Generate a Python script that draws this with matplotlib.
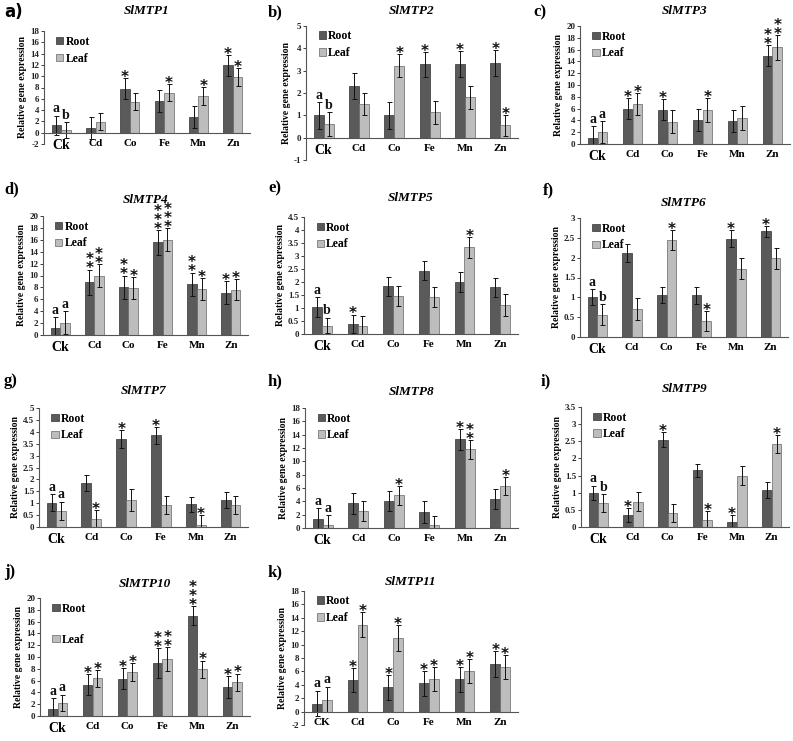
import matplotlib
matplotlib.use("Agg")
import matplotlib.pyplot as plt
import matplotlib.ticker as mtick
from matplotlib.patches import Patch
import numpy as np

W, H = 793, 741
ROOT_C = "#5a5a5a"
LEAF_C = "#bdbdbd"
SERIF = "Liberation Serif"

METALS = ["Ck", "Cd", "Co", "Fe", "Mn", "Zn"]
METALS_K = ["CK", "Cd", "Co", "Fe", "Mn", "Zn"]

# values: mean, error, significance mark
MTP1_ROOT = [1.3, 0.8, 7.8, 5.6, 2.8, 11.9]
MTP1_ROOT_SD = [1.7, 1.9, 1.9, 1.9, 1.9, 1.9]
MTP1_LEAF = [0.5, 1.9, 5.5, 7.1, 6.5, 9.8]
MTP1_LEAF_SD = [1.4, 1.5, 1.5, 1.5, 1.6, 1.6]
MTP1_ROOT_SIG = ["a", "", "*", "", "", "*"]
MTP1_LEAF_SIG = ["b", "", "", "*", "*", "*"]

MTP2_ROOT = [1.0, 2.3, 1.0, 3.28, 3.3, 3.33]
MTP2_ROOT_SD = [0.6, 0.58, 0.6, 0.57, 0.57, 0.59]
MTP2_LEAF = [0.62, 1.5, 3.23, 1.13, 1.8, 0.55]
MTP2_LEAF_SD = [0.53, 0.5, 0.5, 0.52, 0.5, 0.48]
MTP2_ROOT_SIG = ["a", "", "", "*", "*", "*"]
MTP2_LEAF_SIG = ["b", "", "*", "", "", "*"]

MTP3_ROOT = [1.1, 6.0, 5.8, 4.1, 3.9, 15.0]
MTP3_ROOT_SD = [1.9, 1.8, 1.8, 1.9, 1.8, 1.8]
MTP3_LEAF = [2.0, 6.8, 3.8, 5.8, 4.4, 16.4]
MTP3_LEAF_SD = [1.9, 1.9, 2.0, 2.0, 2.0, 2.1]
MTP3_ROOT_SIG = ["a", "*", "*", "", "", "**"]
MTP3_LEAF_SIG = ["a", "*", "", "*", "", "**"]

MTP4_ROOT = [1.1, 8.9, 8.0, 15.6, 8.5, 7.1]
MTP4_ROOT_SD = [1.9, 2.1, 2.0, 2.1, 2.0, 1.9]
MTP4_LEAF = [2.1, 10.0, 7.9, 16.0, 7.7, 7.6]
MTP4_LEAF_SD = [1.9, 1.9, 1.8, 1.9, 1.8, 1.8]
MTP4_ROOT_SIG = ["a", "**", "**", "***", "**", "*"]
MTP4_LEAF_SIG = ["a", "**", "*", "***", "*", "*"]

MTP5_ROOT = [1.04, 0.4, 1.84, 2.44, 2.0, 1.79]
MTP5_ROOT_SD = [0.38, 0.35, 0.37, 0.36, 0.38, 0.36]
MTP5_LEAF = [0.32, 0.32, 1.46, 1.42, 3.33, 1.12]
MTP5_LEAF_SD = [0.3, 0.38, 0.4, 0.4, 0.4, 0.41]
MTP5_ROOT_SIG = ["a", "*", "", "", "", ""]
MTP5_LEAF_SIG = ["b", "", "", "", "*", ""]

MTP6_ROOT = [1.0, 2.12, 1.05, 1.05, 2.48, 2.66]
MTP6_ROOT_SD = [0.2, 0.22, 0.2, 0.22, 0.22, 0.14]
MTP6_LEAF = [0.56, 0.71, 2.45, 0.4, 1.72, 1.98]
MTP6_LEAF_SD = [0.27, 0.27, 0.25, 0.26, 0.27, 0.26]
MTP6_ROOT_SIG = ["a", "", "", "", "*", "*"]
MTP6_LEAF_SIG = ["b", "", "*", "*", "", ""]

MTP7_ROOT = [1.02, 1.84, 3.71, 3.85, 0.95, 1.12]
MTP7_ROOT_SD = [0.36, 0.34, 0.37, 0.35, 0.33, 0.34]
MTP7_LEAF = [0.67, 0.34, 1.15, 0.93, 0.1, 0.93]
MTP7_LEAF_SD = [0.39, 0.38, 0.46, 0.38, 0.4, 0.38]
MTP7_ROOT_SIG = ["a", "", "*", "*", "", ""]
MTP7_LEAF_SIG = ["a", "*", "", "", "*", ""]

MTP8_ROOT = [1.3, 3.7, 4.1, 2.4, 13.3, 4.3]
MTP8_ROOT_SD = [1.7, 1.6, 1.5, 1.6, 1.6, 1.5]
MTP8_LEAF = [0.4, 2.6, 4.9, 0.4, 11.8, 6.3]
MTP8_LEAF_SD = [1.5, 1.5, 1.4, 1.4, 1.4, 1.4]
MTP8_ROOT_SIG = ["a", "", "", "", "*", ""]
MTP8_LEAF_SIG = ["a", "", "*", "", "**", "*"]

MTP9_ROOT = [1.0, 0.36, 2.55, 1.66, 0.16, 1.08]
MTP9_ROOT_SD = [0.2, 0.2, 0.22, 0.19, 0.2, 0.23]
MTP9_LEAF = [0.7, 0.74, 0.42, 0.2, 1.5, 2.42]
MTP9_LEAF_SD = [0.26, 0.27, 0.26, 0.26, 0.27, 0.26]
MTP9_ROOT_SIG = ["a", "*", "*", "", "*", ""]
MTP9_LEAF_SIG = ["b", "", "", "*", "", "*"]

MTP10_ROOT = [1.2, 5.3, 6.3, 9.0, 17.0, 4.9]
MTP10_ROOT_SD = [1.8, 1.8, 1.8, 2.5, 1.6, 1.9]
MTP10_LEAF = [2.2, 6.4, 7.4, 9.7, 7.9, 5.7]
MTP10_LEAF_SD = [1.4, 1.4, 1.5, 2.0, 1.5, 1.5]
MTP10_ROOT_SIG = ["a", "*", "*", "**", "***", "*"]
MTP10_LEAF_SIG = ["a", "*", "*", "**", "*", "*"]

MTP11_ROOT = [1.2, 4.7, 3.6, 4.2, 4.8, 7.1]
MTP11_ROOT_SD = [1.9, 1.8, 1.9, 1.9, 1.8, 1.9]
MTP11_LEAF = [1.8, 13.0, 11.0, 4.9, 6.1, 6.7]
MTP11_LEAF_SD = [1.9, 1.9, 1.9, 1.8, 1.8, 1.8]
MTP11_ROOT_SIG = ["a", "*", "*", "*", "*", "*"]
MTP11_LEAF_SIG = ["a", "*", "*", "*", "*", "*"]

# panel frame in pixels: (left, right, top, bottom), y range, y step
LAYOUT = {
    "a": dict(box=(44, 250, 31, 144), ylim=(-2, 18), step=2, title_y=11, tag=(4, 12)),
    "b": dict(box=(306, 518, 26, 160), ylim=(-1, 5), step=1, title_y=11, tag=(268, 12)),
    "c": dict(box=(580, 790, 26, 144), ylim=(0, 20), step=2, title_y=11, tag=(533, 12)),
    "d": dict(box=(43, 248, 216, 335), ylim=(0, 20), step=2, title_y=200, tag=(4, 189)),
    "e": dict(box=(304, 518, 217, 334), ylim=(0, 4.5), step=0.5, title_y=198, tag=(268, 188)),
    "f": dict(box=(580, 788, 218, 337), ylim=(0, 3), step=0.5, title_y=203, tag=(543, 190)),
    "g": dict(box=(39, 248, 408, 527), ylim=(0, 5), step=0.5, title_y=391, tag=(4, 381)),
    "h": dict(box=(305, 518, 408, 528), ylim=(0, 18), step=2, title_y=392, tag=(268, 381)),
    "i": dict(box=(581, 789, 407, 527), ylim=(0, 3.5), step=0.5, title_y=389, tag=(541, 381)),
    "j": dict(box=(40, 250, 598, 716), ylim=(0, 20), step=2, title_y=584, tag=(4, 572)),
    "k": dict(box=(304, 518, 591, 725), ylim=(-2, 18), step=2, title_y=582, tag=(268, 572)),
}

PANELS = [
    ("a", "SlMTP1", MTP1_ROOT, MTP1_ROOT_SD, MTP1_LEAF, MTP1_LEAF_SD, MTP1_ROOT_SIG, MTP1_LEAF_SIG),
    ("b", "SlMTP2", MTP2_ROOT, MTP2_ROOT_SD, MTP2_LEAF, MTP2_LEAF_SD, MTP2_ROOT_SIG, MTP2_LEAF_SIG),
    ("c", "SlMTP3", MTP3_ROOT, MTP3_ROOT_SD, MTP3_LEAF, MTP3_LEAF_SD, MTP3_ROOT_SIG, MTP3_LEAF_SIG),
    ("d", "SlMTP4", MTP4_ROOT, MTP4_ROOT_SD, MTP4_LEAF, MTP4_LEAF_SD, MTP4_ROOT_SIG, MTP4_LEAF_SIG),
    ("e", "SlMTP5", MTP5_ROOT, MTP5_ROOT_SD, MTP5_LEAF, MTP5_LEAF_SD, MTP5_ROOT_SIG, MTP5_LEAF_SIG),
    ("f", "SlMTP6", MTP6_ROOT, MTP6_ROOT_SD, MTP6_LEAF, MTP6_LEAF_SD, MTP6_ROOT_SIG, MTP6_LEAF_SIG),
    ("g", "SlMTP7", MTP7_ROOT, MTP7_ROOT_SD, MTP7_LEAF, MTP7_LEAF_SD, MTP7_ROOT_SIG, MTP7_LEAF_SIG),
    ("h", "SlMTP8", MTP8_ROOT, MTP8_ROOT_SD, MTP8_LEAF, MTP8_LEAF_SD, MTP8_ROOT_SIG, MTP8_LEAF_SIG),
    ("i", "SlMTP9", MTP9_ROOT, MTP9_ROOT_SD, MTP9_LEAF, MTP9_LEAF_SD, MTP9_ROOT_SIG, MTP9_LEAF_SIG),
    ("j", "SlMTP10", MTP10_ROOT, MTP10_ROOT_SD, MTP10_LEAF, MTP10_LEAF_SD, MTP10_ROOT_SIG, MTP10_LEAF_SIG),
    ("k", "SlMTP11", MTP11_ROOT, MTP11_ROOT_SD, MTP11_LEAF, MTP11_LEAF_SD, MTP11_ROOT_SIG, MTP11_LEAF_SIG),
]


def mark(ax, x, top, sig):
    if not sig:
        return
    if sig in ("a", "b"):
        ax.annotate(sig, (x, top), xytext=(0, 0.3), textcoords="offset points",
                    ha="center", va="bottom", fontsize=10, fontweight="bold",
                    family=SERIF, color="#111111")
        return
    # stacked asterisks as one text block so they sit tight like the original
    ax.annotate("\n".join("*" * len(sig)), (x, top), xytext=(0, -5.0), textcoords="offset points",
                ha="center", va="bottom", fontsize=11, fontweight="bold", linespacing=0.5,
                family="DejaVu Sans", color="#111111")


def draw_panel(fig, tag, gene, root, root_sd, leaf, leaf_sd, root_sig, leaf_sig):
    lay = LAYOUT[tag]
    left, right, top, bottom = lay["box"]
    ax = fig.add_axes([left / W, 1 - bottom / H, (right - left) / W, (bottom - top) / H])
    x = np.arange(len(METALS))
    bw = 0.28
    kw = dict(capsize=1.8, error_kw=dict(elinewidth=0.7, capthick=0.7, ecolor="#111111"))
    ax.bar(x - bw / 2, root, bw, yerr=root_sd, color=ROOT_C, edgecolor="#333333",
           linewidth=0.5, label="Root", **kw)
    ax.bar(x + bw / 2, leaf, bw, yerr=leaf_sd, color=LEAF_C, edgecolor="#666666",
           linewidth=0.5, label="Leaf", **kw)
    for i in range(len(x)):
        mark(ax, x[i] - bw / 2, root[i] + root_sd[i], root_sig[i])
        mark(ax, x[i] + bw / 2, leaf[i] + leaf_sd[i], leaf_sig[i])

    ymin, ymax = lay["ylim"]
    ax.set_ylim(ymin, ymax)
    ax.set_xlim(-0.5, len(x) - 0.5)
    ax.yaxis.set_major_locator(mtick.MultipleLocator(lay["step"]))
    ax.yaxis.set_major_formatter(mtick.FuncFormatter(lambda v, p: f"{v:g}"))
    ax.spines["top"].set_visible(False)
    ax.spines["right"].set_visible(False)
    ax.spines["bottom"].set_position(("data", 0))
    for sp in ("left", "bottom"):
        ax.spines[sp].set_color("#555555")
        ax.spines[sp].set_linewidth(0.8)
    ax.tick_params(axis="y", direction="out", length=2, width=0.6, pad=1.5, labelsize=6.5, colors="#222222")
    ax.tick_params(axis="x", length=0, pad=4.5)
    for lab in ax.get_yticklabels():
        lab.set_fontfamily(SERIF)
        lab.set_fontweight("bold")
    names = METALS_K if tag == "k" else METALS
    ax.set_xticks(x)
    ax.set_xticklabels(names)
    for i, lab in enumerate(ax.get_xticklabels()):
        lab.set_fontfamily(SERIF)
        lab.set_fontweight("bold")
        lab.set_fontsize(10 if i == 0 and tag != "k" else 8)
    ax.set_ylabel("Relative gene expression", family=SERIF, fontweight="bold", fontsize=7, labelpad=2)

    handles = [Patch(facecolor=ROOT_C, edgecolor="#333333", linewidth=0.5),
               Patch(facecolor=LEAF_C, edgecolor="#666666", linewidth=0.5)]
    ax.legend(handles, ["Root", "Leaf"], loc="upper left", bbox_to_anchor=(0.02, 1.03),
              frameon=False, handlelength=0.6, handleheight=0.6, handletextpad=0.2,
              labelspacing=1.6 if tag == "j" else 0.4, borderpad=0.2,
              prop=dict(family=SERIF, weight="bold", size=8.5))

    cx = (left + right) / 2
    fig.text(cx / W, 1 - lay["title_y"] / H, gene, ha="center", va="center",
             family=SERIF, fontweight="bold", fontstyle="italic", fontsize=9.5)
    tx, ty = lay["tag"]
    fig.text(tx / W, 1 - ty / H, f"{tag})", ha="left", va="center", fontweight="bold",
             fontsize=12, family="DejaVu Sans" if tag == "a" else SERIF)


def main():
    fig = plt.figure(figsize=(W / 100, H / 100), dpi=100)
    fig.patch.set_facecolor("white")
    for panel in PANELS:
        draw_panel(fig, *panel)
    fig.savefig("out.png", dpi=100, facecolor="white")
    plt.close(fig)


if __name__ == "__main__":
    main()
